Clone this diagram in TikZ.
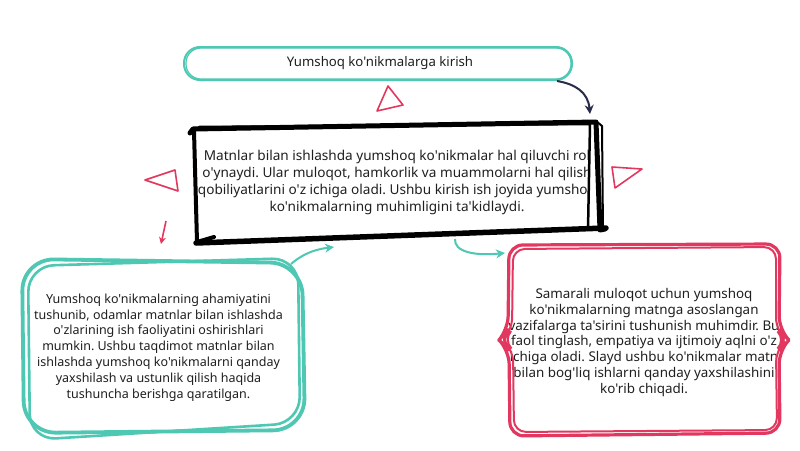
\documentclass[tikz,border=0pt]{standalone}
\usepackage{fontspec}
\newfontfamily\nsans{Noto Sans}
\usetikzlibrary{arrows.meta}
\definecolor{tealx}{HTML}{4EC7B3}
\definecolor{crim}{HTML}{E2385F}
\definecolor{navyx}{HTML}{2A2C4C}
\tikzset{
  txt/.style={align=center, font=\nsans\frenchspacing\fontsize{13.2}{15.8}\selectfont, text=black!88},
  txtL/.style={txt, font=\nsans\frenchspacing\fontsize{12.5}{15.8}\selectfont},
  txtR/.style={txt, font=\nsans\frenchspacing\fontsize{13.4}{15.8}\selectfont},
  txtM/.style={txt, font=\nsans\frenchspacing\fontsize{13.6}{17}\selectfont},
  tri/.style={draw=crim, line width=1.6, line join=round},
  tealstroke/.style={draw=tealx, line width=3.8, line join=round},
  redstroke/.style={draw=crim, line width=3.2, line join=round, rounded corners=14},
  blk/.style={draw=black, line join=round, line cap=round},
  conn/.style={line width=2, -{Stealth[length=9pt,width=9pt]}}
}
\begin{document}
\begin{tikzpicture}[x=1pt,y=-1pt]
\useasboundingbox (0,0) rectangle (800,450);
\fill[white] (0,0) rectangle (800,450);

% top pill
\node[draw=tealx, line width=2, rounded corners=16, minimum width=388pt, minimum height=33pt] (top) at (378,63.5) {};
\node[txt] (toptext) at (380,63) {Yumshoq ko'nikmalarga kirish};
\draw[tealx, line width=1.2, rounded corners=15] ([shift={(3,2)}]top.north west) rectangle ([shift={(-2,-2)}]top.south east);

% center box text (clipped)
\begin{scope}
\clip (190,118) rectangle (589,245);
\node[txtM] (mid) at (397,182.5) {Matnlar bilan ishlashda yumshoq ko'nikmalar hal qiluvchi rol\\o'ynaydi. Ular muloqot, hamkorlik va muammolarni hal qilish\\qobiliyatlarini o'z ichiga oladi. Ushbu kirish ish joyida yumshoq\\ko'nikmalarning muhimligini ta'kidlaydi.};
\end{scope}
\coordinate (midNE) at (592,118);
\draw[blk, line width=5] (190,133) -- (193,129) -- (596,122) -- (600,230) -- (605,229);
\draw[blk, line width=5.5] (196,243) -- (606,228);
\draw[blk, line width=4] (194,131) -- (197,242) -- (214,237);
\draw[blk, line width=2.5] (199,127) -- (590,124) -- (588,230);
\draw[blk, line width=2] (596,121) -- (602,126) -- (603,231);

% left box
\node[txtL] (left) at (158.5,347.5) {Yumshoq ko'nikmalarning ahamiyatini\\tushunib, odamlar matnlar bilan ishlashda\\o'zlarining ish faoliyatini oshirishlari\\mumkin. Ushbu taqdimot matnlar bilan\\ishlashda yumshoq ko'nikmalarni qanday\\yaxshilash va ustunlik qilish haqida\\tushuncha berishga qaratilgan.};
\draw[tealstroke, rounded corners=32] (22,259) -- (302,263) -- (305,430) -- (24,433) -- cycle;
\draw[tealx, line width=2.6, rounded corners=26] (28,266) -- (298,258) -- (300,423) -- (30,440) -- cycle;

% right box
\node[txtR] (right) at (644,342.5) {Samarali muloqot uchun yumshoq\\ko'nikmalarning matnga asoslangan\\vazifalarga ta'sirini tushunish muhimdir. Bu\\faol tinglash, empatiya va ijtimoiy aqlni o'z\\ichiga oladi. Slayd ushbu ko'nikmalar matn\\bilan bog'liq ishlarni qanday yaxshilashini\\ko'rib chiqadi.};
\draw[redstroke] (508,330) -- (509,245) -- (780,244) -- (779,330) -- (789,340) -- (779,350) -- (780,433) -- (510,436) -- (509,350) -- (499,340) -- cycle;
\draw[crim, line width=2, rounded corners=12] (512,330) -- (513,249) -- (776,247) -- (776,330) -- (786,340) -- (776,350) -- (777,430) -- (514,432) -- (513,350) -- (503,340) -- cycle;

% connectors
\draw[conn, navyx] ([shift={(-16,0)}]top.south east) .. controls (575,84) and (588,92) .. ([shift={(-2,-4)}]midNE);
\draw[conn, tealx] (291,264) .. controls (305,252) and (318,249) .. (334,247);
\draw[conn, tealx] (455,239) .. controls (454,252) and (475,256) .. (505,253);
\draw[crim, line width=1.6, -{Stealth[length=7pt,width=7pt]}] (166,221) -- (161,244);

% decorative triangles
\draw[tri] (377,111) -- (388,86) -- (403,105) -- cycle;
\draw[tri] (145,180) -- (175,170) -- (178,191) -- cycle;
\draw[tri] (612,167) -- (642,169) -- (615,188) -- cycle;
\end{tikzpicture}
\end{document}
